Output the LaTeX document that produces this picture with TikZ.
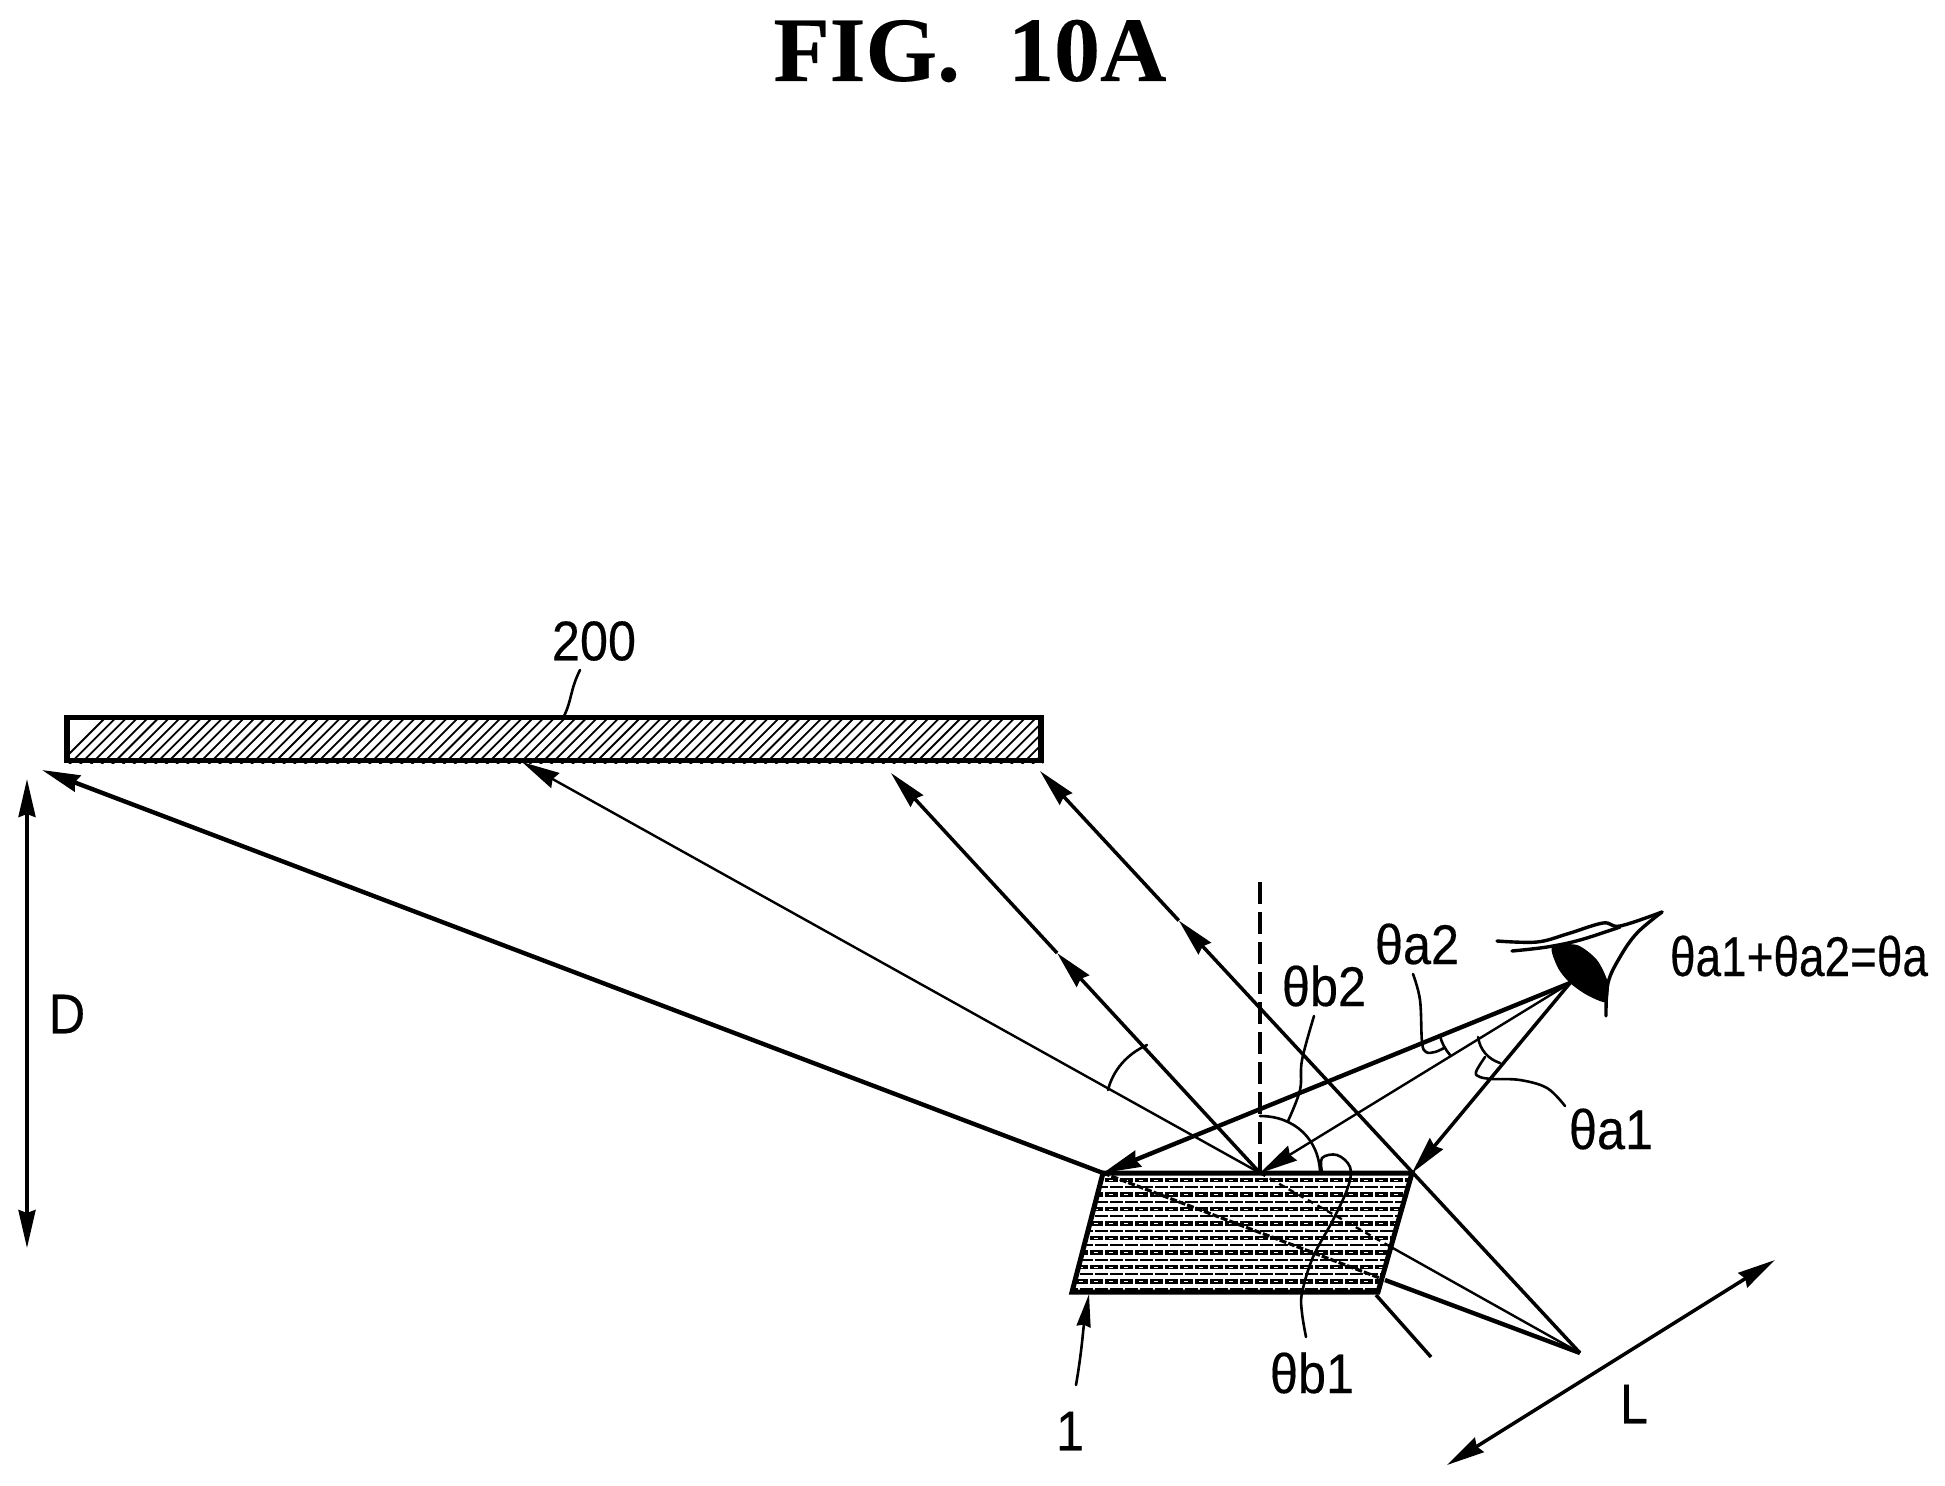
\documentclass[tikz,border=0pt]{standalone}
\usepackage{fontspec}
\setmainfont[FakeStretch=0.9,FakeBold=0.25]{Liberation Sans}
\newfontfamily\sumfont[FakeStretch=0.82,FakeBold=0.25]{Liberation Sans}
\newfontfamily\titlefont[FakeStretch=1.0,FakeBold=0.2]{Liberation Serif Bold}
\usetikzlibrary{arrows.meta,calc}
\tikzset{
  thickray/.style={line width=4.4pt},
  medray/.style={line width=3.5pt},
  thinray/.style={line width=2.4pt},
  leader/.style={line width=2.6pt,line cap=round},
  head/.style={-{Stealth[length=38pt,width=17pt,inset=3pt]}},
  dhead/.style={{Stealth[length=38pt,width=17pt,inset=3pt]}-{Stealth[length=38pt,width=17pt,inset=3pt]}},
  lab/.style={inner sep=0pt,font=\fontsize{56}{60}\selectfont},
}
\begin{document}
\begin{tikzpicture}[x=1pt,y=-1pt]
\useasboundingbox (0,0) rectangle (1945,1485);
% named points
\coordinate (A) at (1103,1173);
\coordinate (B) at (1412,1173);
\coordinate (C) at (1378,1292);
\coordinate (Dd) at (1072,1292);
\coordinate (M) at (1260,1173);
\coordinate (E) at (1570,983);
\coordinate (S) at (1580,1353);
\coordinate (T1) at (42,770);
\coordinate (T2) at (522,762);
\coordinate (T3) at (891,773);
\coordinate (T4) at (1040,771);
\coordinate (Up) at (1260,882);
\coordinate (C1) at (1385,1280);
\coordinate (C2) at (1391,1247);
\coordinate (L1) at (1376,1295);
\coordinate (L2) at (1431,1357);
\coordinate (Da) at (27,779);
\coordinate (Db) at (27,1248);
\coordinate (La) at (1775,1260);
\coordinate (Lb) at (1447,1465);
\coordinate (m3) at ($(M)!0.55!(T3)$);
\coordinate (m4) at ($(S)!0.743!(T4)$);
% title
\node[inner sep=0pt,font=\titlefont\fontsize{92}{96}\selectfont] (title) at (970,51) {FIG.\hspace{48pt}10A};
% bar
\begin{scope}
\clip (65,715) rectangle (1043,763);
\foreach \i in {0,...,96} {
  \draw[line width=1.8pt] ({55+\i*10.7},768) -- ({55+\i*10.7+56},712);
}
\end{scope}
\draw[line width=5.5pt] (67,717.5) rectangle (1041,760.5);
\node[lab] (n200) at (594,641) {200};
\draw[leader] (580,670) .. controls (570,690) and (572,700) .. (564,716);
% panel
\begin{scope}
\clip (A) -- (B) -- (C) -- (Dd) -- cycle;
\foreach \i in {0,...,8} {
  \pgfmathsetmacro{\yy}{1180+\i*14.5}
  \draw[line width=4.2pt,dash pattern=on 12.5pt off 2.5pt] (1060,\yy) -- (1430,\yy);
  \draw[white,line width=1pt,dash pattern=on 4pt off 11pt] (1064,\yy) -- (1430,\yy);
  \draw[line width=2.4pt,dash pattern=on 13pt off 2pt] (1065,\yy+7.25) -- (1430,\yy+7.25);
}
\draw[line width=3.2pt,dash pattern=on 7pt off 2pt] (A) -- (C1);
\draw[line width=2.4pt,dash pattern=on 6pt off 5pt] (M) -- (C2);
\end{scope}
\draw[line width=5pt,line join=miter] (A) -- (B) -- (C) -- (Dd) -- cycle;
% reflected rays
\draw[thickray,head] (A) -- (T1);
\draw[thinray,head] (M) -- (T2);
\draw[medray,head] (M) -- (m3);
\draw[medray,head] (m3) -- (T3);
\draw[medray,head] (S) -- (m4);
\draw[medray,head] (m4) -- (T4);
\draw[medray] (L1) -- (L2);
\draw[thickray] (C1) -- (S);
\draw[thinray] (C2) -- (S);
% eye rays
\draw[thickray,head] (E) -- (A);
\draw[thinray,head] (E) -- (M);
\draw[medray,head] (E) -- (B);
\draw[line width=3.4pt,dash pattern=on 22pt off 8pt] (Up) -- (M);
% dimension arrows
\draw[medray,dhead] (Da) -- (Db);
\draw[medray,dhead] (La) -- (Lb);
% eye
\draw[line width=3.4pt,line cap=round] plot[smooth,tension=0.6] coordinates {(1497,941) (1537,942) (1567,934) (1603,923) (1620,926) (1662,912)};
\draw[line width=3.4pt,line cap=round] plot[smooth,tension=0.6] coordinates {(1512,951) (1547,947) (1580,940) (1620,927)};
\draw[line width=3.4pt,line cap=round] plot[smooth,tension=0.6] coordinates {(1662,912) (1637,933) (1620,957) (1608,983) (1606,1016)};
\fill plot[smooth cycle,tension=0.45] coordinates {(1552,947) (1577,945) (1597,960) (1608,983) (1606,1002) (1587,995) (1570,983) (1558,968)};
% angle marks
\draw[leader] (1108,1090) .. controls (1113,1070) and (1127,1054) .. (1147,1045);
\draw[leader] (1260,1116) .. controls (1295,1116) and (1319,1140) .. (1320,1172);
\draw[leader] plot[smooth,tension=0.6] coordinates {(1322,1172) (1322,1158) (1337,1155) (1350,1167) (1348,1187) (1333,1220) (1313,1257) (1302,1293) (1302,1313) (1306,1337)};
\draw[leader] plot[smooth,tension=0.6] coordinates {(1314,1016) (1302,1060) (1300,1090) (1288,1121)};
\draw[leader] (1440,1035) .. controls (1441,1042) and (1445,1049) .. (1450,1055);
\draw[leader] plot[smooth,tension=0.6] coordinates {(1413,974) (1420,1000) (1422,1042) (1426,1052) (1435,1052) (1444,1048)};
\draw[leader] (1478,1037) .. controls (1480,1050) and (1488,1059) .. (1500,1063);
\draw[leader] plot[smooth,tension=0.6] coordinates {(1485,1057) (1476,1072) (1480,1077) (1493,1079) (1520,1080) (1547,1088) (1565,1106)};
% part 1 leader
\draw[leader,-{Stealth[length=33pt,width=14pt,inset=2pt]}] (1076,1385) .. controls (1082,1350) and (1083,1330) .. (1089,1294);
% labels
\node[lab] (nD) at (67,1014) {D};
\node[lab] (nL) at (1634,1404) {L};
\node[lab] (n1) at (1070,1431) {1};
\node[lab] (tb1) at (1312,1373) {θb1};
\node[lab] (tb2) at (1324,986) {θb2};
\node[lab] (ta2) at (1417,944) {θa2};
\node[lab] (ta1) at (1611,1129) {θa1};
\node[lab,font=\sumfont\fontsize{56}{60}\selectfont] (tsum) at (1799,956) {θa1+θa2=θa};
\end{tikzpicture}
\end{document}
